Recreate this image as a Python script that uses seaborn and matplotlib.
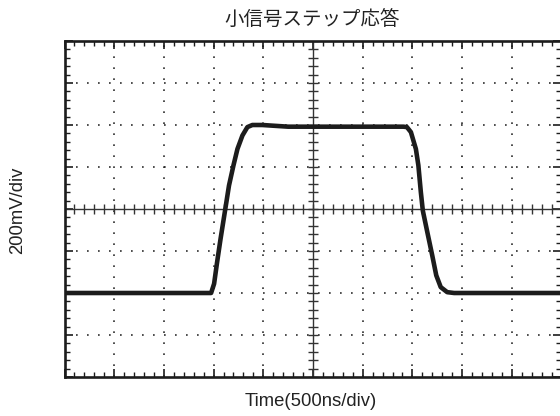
import numpy as np
import pandas as pd
import matplotlib
matplotlib.use("Agg")
import matplotlib.pyplot as plt
import seaborn as sns

# Waveform, in divisions (x: 500 ns/div, y: 200 mV/div), centre of screen = (0, 0)
t_div = [-5.0, -2.05, -1.99, -1.93, -1.86, -1.77, -1.69, -1.60, -1.52, -1.42, -1.32,
         -1.22, -1.02, -0.5,
         1.82, 1.89, 1.97, 2.07, 2.12, 2.17, 2.21, 2.30, 2.40, 2.48, 2.57, 2.70, 2.84, 5.0]
v_div = [-2.0, -2.0, -1.78, -1.27, -0.71, -0.04, 0.56, 1.04, 1.43, 1.75, 1.95,
         2.00, 2.00, 1.96,
         1.96, 1.95, 1.83, 1.43, 1.04, 0.40, -0.04, -0.55, -1.11, -1.58, -1.86, -1.98, -2.0, -2.0]

title = "小信号ステップ応答"
xlabel = "Time(500ns/div)"
ylabel = "200mV/div"

sns.set_style("white")
plt.rcParams["font.family"] = ["Liberation Sans", "Noto Sans CJK JP", "DejaVu Sans"]

fig = plt.figure(figsize=(5.6, 4.16), dpi=100)
W, H = 560, 416
ax = fig.add_axes([64.5 / W, 39 / H, 497 / W, 336 / H])

ink = "#1c1c1c"
ax.set_xlim(-5, 5)
ax.set_ylim(-4, 4)

# dotted graticule
dots = (0, (1.1, 6.1))
for gx in range(-4, 5):
    if gx != 0:
        ax.axvline(gx, color=ink, lw=1.1, ls=dots, zorder=1)
for gy in range(-3, 4):
    if gy != 0:
        ax.axhline(gy, color=ink, lw=1.1, ls=dots, zorder=1)

# centre cross with fine tick marks
ax.axhline(0, color="#333333", lw=1.0, zorder=1)
ax.axvline(0, color="#333333", lw=1.0, zorder=1)
fx = np.arange(-5, 5.01, 0.2)
fy = np.arange(-4, 4.01, 0.2)
ax.plot(fx, np.zeros_like(fx), ls="", marker="|", ms=7, mew=1.0, color="#333333", zorder=1)
ax.plot(np.zeros_like(fy), fy, ls="", marker="_", ms=7, mew=1.0, color="#333333", zorder=1)

df = pd.DataFrame({"t": t_div, "v": v_div})
sns.lineplot(data=df, x="t", y="v", ax=ax, color=ink, lw=3.3, sort=False,
             estimator=None, zorder=3)

# frame with inward ticks on all sides
for s in ax.spines.values():
    s.set_visible(True)
    s.set_color(ink)
    s.set_linewidth(1.9)
ax.set_xticks(np.arange(-5, 6, 1))
ax.set_yticks(np.arange(-4, 5, 1))
ax.set_xticks(np.arange(-5, 5.01, 0.2), minor=True)
ax.set_yticks(np.arange(-4, 4.01, 0.2), minor=True)
ax.tick_params(which="both", direction="in", top=True, right=True, bottom=True, left=True,
               labelbottom=False, labelleft=False, color=ink)
ax.tick_params(which="major", length=5.5, width=1.2)
ax.tick_params(which="minor", length=3.5, width=1.0)
ax.set_xlabel("")
ax.set_ylabel("")

fig.text(312 / W, 1 - 20.5 / H, title, ha="center", va="center", fontsize=14,
         family=["Noto Sans CJK JP", "DejaVu Sans"], color="#222222")
fig.text(311 / W, 1 - 401 / H, xlabel, ha="center", va="center", fontsize=13.3, color="#222222")
fig.text(18 / W, 1 - 210 / H, ylabel, ha="center", va="center", fontsize=13.3,
         rotation=90, color="#222222")

fig.savefig("out.png", dpi=100)
